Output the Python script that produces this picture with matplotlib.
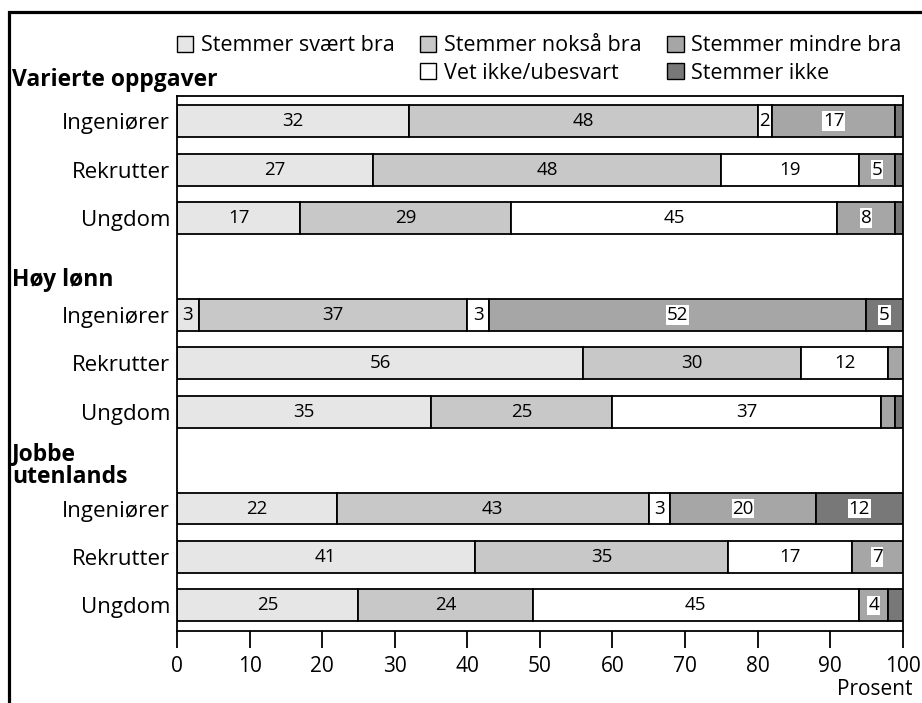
import matplotlib.pyplot as plt
import matplotlib.transforms as mtransforms
from matplotlib.patches import Rectangle, Patch

plt.rcParams['font.family'] = ['Open Sans', 'DejaVu Sans']

groups = ['Varierte oppgaver', 'Høy lønn', 'Jobbe\nutenlands']
respondents = ['Ingeniører', 'Rekrutter', 'Ungdom']
categories = ['Stemmer svært bra', 'Stemmer nokså bra', 'Vet ikke/ubesvart',
              'Stemmer mindre bra', 'Stemmer ikke']

# rows: Varierte (Ing, Rek, Ung), Høy lønn (...), Jobbe utenlands (...)
svaert_bra = [32, 27, 17, 3, 56, 35, 22, 41, 25]
noksaa_bra = [48, 48, 29, 37, 30, 25, 43, 35, 24]
vet_ikke = [2, 19, 45, 3, 12, 37, 3, 17, 45]
mindre_bra = [17, 5, 8, 52, 2, 2, 20, 7, 4]
ikke = [1, 1, 1, 5, 0, 1, 12, 0, 2]

series = [svaert_bra, noksaa_bra, vet_ikke, mindre_bra, ikke]
colors = ['#e6e6e6', '#c8c8c8', '#ffffff', '#a6a6a6', '#787878']
min_label = [2, 2, 2, 3, 3]
white_box = [False, False, False, True, True]

fig = plt.figure(figsize=(9.22, 7.03), dpi=100)
ax = fig.add_axes([0.192, 0.1031, 0.787, 0.7603])

# 3 bars per group, one empty slot between groups
ypos = []
for g in range(len(groups)):
    for r in range(len(respondents)):
        ypos.append(g * 4 + r)

left = [0] * len(ypos)
for vals, col, mn, wb in zip(series, colors, min_label, white_box):
    ax.barh(ypos, vals, left=left, height=0.66, color=col,
            edgecolor='black', linewidth=1.3)
    for y, l, v in zip(ypos, left, vals):
        if v >= mn:
            kw = {}
            if wb:
                kw['bbox'] = dict(facecolor='white', edgecolor='none', pad=0.5)
            ax.text(l + v / 2, y, str(v), ha='center', va='center',
                    fontsize=13.5, **kw)
    left = [a + b for a, b in zip(left, vals)]

ax.set_xlim(0, 100)
ax.set_ylim(10.52, -0.52)
ax.set_xticks(range(0, 101, 10))
ax.set_yticks(ypos)
ax.set_yticklabels(respondents * len(groups))
ax.tick_params(axis='x', direction='out', length=12, width=1.3, labelsize=15, pad=6)
ax.tick_params(axis='y', length=0, labelsize=16, pad=5)
for s in ax.spines.values():
    s.set_linewidth(1.3)

# group headers
trans = mtransforms.blended_transform_factory(fig.transFigure, ax.transData)
header_y = [-0.85, 3.28, 7.11]
for name, hy in zip(groups, header_y):
    ax.text(0.013, hy, name, transform=trans, fontsize=16.5, fontweight='bold',
            ha='left', va='center', linespacing=0.9, clip_on=False)

fig.text(0.99, 0.0185, 'Prosent', ha='right', va='center', fontsize=15)

# legend: blank entry under the first one
handles = [Patch(facecolor=colors[0], edgecolor='black', linewidth=1),
           Patch(facecolor='none', edgecolor='none'),
           Patch(facecolor=colors[1], edgecolor='black', linewidth=1),
           Patch(facecolor=colors[2], edgecolor='black', linewidth=1),
           Patch(facecolor=colors[3], edgecolor='black', linewidth=1),
           Patch(facecolor=colors[4], edgecolor='black', linewidth=1)]
labels = [categories[0], '', categories[1], categories[2], categories[3], categories[4]]
fig.legend(handles, labels, ncol=3, loc='upper left', bbox_to_anchor=(0.192, 0.95),
           frameon=False, fontsize=15.5, handlelength=0.75, handleheight=0.75,
           handletextpad=0.35, columnspacing=1.2, labelspacing=0.3,
           borderpad=0, borderaxespad=0)

# outer frame (runs off the right and bottom edges)
fig.patches.append(Rectangle((0.01, -0.1), 1.2, 1.083, transform=fig.transFigure,
                             fill=False, edgecolor='black', linewidth=2.3))

fig.savefig('out.png', dpi=100)
